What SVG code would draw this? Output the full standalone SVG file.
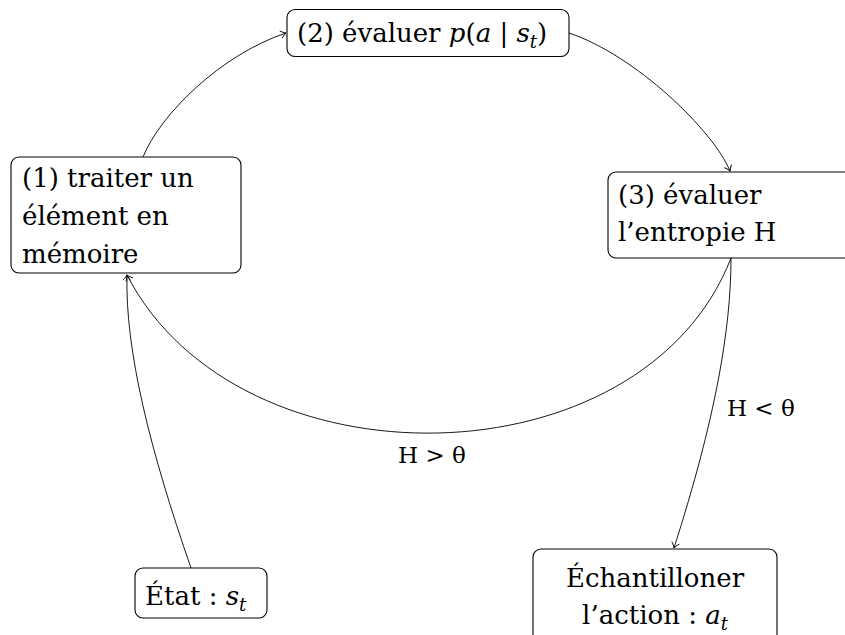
<svg xmlns="http://www.w3.org/2000/svg" width="845" height="635" viewBox="0 0 845 635">
<defs>
<style>
.box{fill:#fff;stroke:#000;stroke-width:1.1}
.t{font-family:"DejaVu Serif","Liberation Serif",serif;font-size:26px;fill:#000}
.lbl{font-family:"DejaVu Serif","Liberation Serif",serif;font-size:23px;fill:#000}
.i{font-style:italic}
.sub{font-style:italic;font-size:18px}
.edge{fill:none;stroke:#000;stroke-width:0.9;marker-end:url(#arr)}
</style>
<marker id="arr" markerUnits="userSpaceOnUse" markerWidth="12" markerHeight="12" viewBox="-6 -6 12 12" refX="0" refY="0" orient="auto">
<path d="M-5,-3.6 C-3,-1.6 -0.8,-0.4 0,0 C-0.8,0.4 -3,1.6 -5,3.6" fill="none" stroke="#000" stroke-width="0.9" stroke-linecap="round"/>
</marker>
</defs>
<rect width="845" height="635" fill="#fff"/>
<g id="connectors">
<path class="edge" d="M143,157 C160,115 220,55 286,33"/>
<path class="edge" d="M569,33 C635,55 713,130 730,171"/>
<path class="edge" d="M731,258 C643,485 239,492 127,275"/>
<path class="edge" d="M731,258 C731,330 715,420 674,548"/>
<path class="edge" d="M191,568 C150,450 125,350 127,275"/>
<text class="lbl" x="432" y="463" text-anchor="middle">H &gt; θ</text>
<text class="lbl" x="727" y="416">H &lt; θ</text>
</g>
<g id="n1">
<rect class="box" x="11" y="157" width="230" height="116" rx="8"/>
<text class="t" x="22" y="187">(1) traiter un</text>
<text class="t" x="22" y="225">élément en</text>
<text class="t" x="22" y="263">mémoire</text>
</g>
<g id="n2">
<rect class="box" x="287" y="9.5" width="282" height="47" rx="8"/>
<text class="t" x="297" y="42">(2) évaluer <tspan class="i">p</tspan>(<tspan class="i">a</tspan> | <tspan class="i">s</tspan><tspan class="sub" dy="6">t</tspan><tspan dy="-6">)</tspan></text>
</g>
<g id="n3">
<rect class="box" x="608" y="172" width="250" height="86" rx="8"/>
<text class="t" x="618" y="204">(3) évaluer</text>
<text class="t" x="618" y="241">l’entropie H</text>
</g>
<g id="n4">
<rect class="box" x="135" y="568" width="132" height="50" rx="8"/>
<text class="t" x="145" y="605">État : <tspan class="i">s</tspan><tspan class="sub" dy="6">t</tspan></text>
</g>
<g id="n5">
<rect class="box" x="533" y="549" width="244" height="100" rx="8"/>
<text class="t" x="655" y="587" text-anchor="middle">Échantilloner</text>
<text class="t" x="655" y="624" text-anchor="middle">l’action : <tspan class="i">a</tspan><tspan class="sub" dy="6">t</tspan></text>
</g>
</svg>
